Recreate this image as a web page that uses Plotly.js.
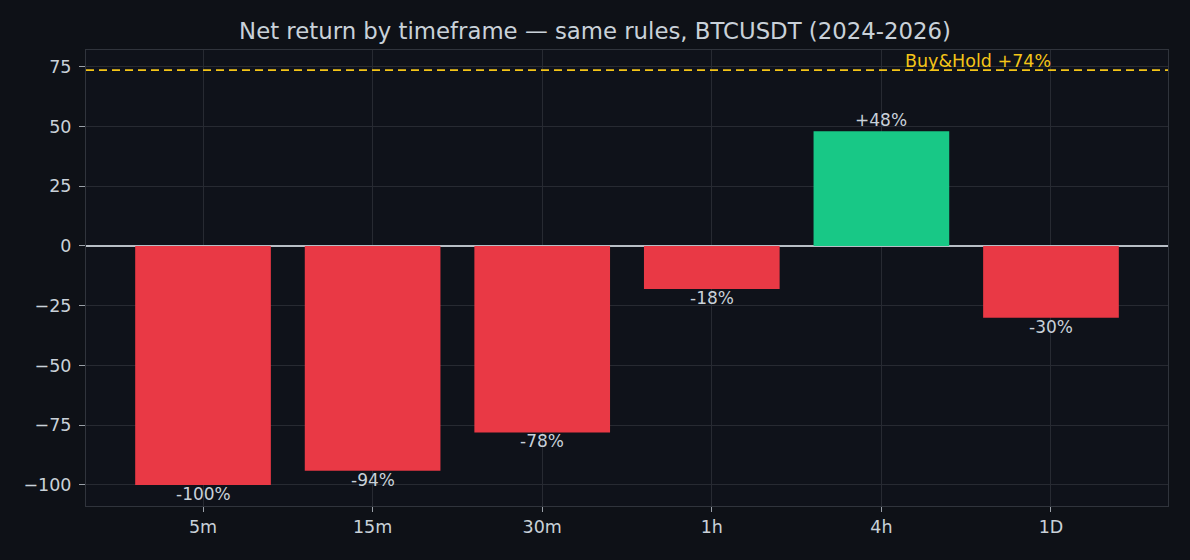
<!DOCTYPE html>
<html>
<head>
<meta charset="utf-8">
<script src="https://cdn.plot.ly/plotly-3.0.1.min.js"></script>
<style>
  html, body { margin: 0; padding: 0; background: #0e1117; }
  #myDiv { width: 1190px; height: 560px; }
</style>
</head>
<body>
<div id="myDiv"></div>
<script>
// timeframes and their net return (%)
var timeframes = ['5m', '15m', '30m', '1h', '4h', '1D'];
var netReturn = [-100, -94, -78, -18, 48, -30];
var buyHold = 73.6;   // shown as +74%
var yTicks = [-100, -75, -50, -25, 0, 25, 50, 75];

var barColors = netReturn.map(function (v) { return v >= 0 ? '#18c886' : '#e93945'; });
var barLabels = netReturn.map(function (v) { return (v > 0 ? '+' : '') + v + '%'; });

var trace1 = {
  x: timeframes,
  y: netReturn,
  type: 'bar',
  width: 0.8,
  marker: { color: barColors, line: { width: 0 } },
  hoverinfo: 'x+y'
};

// value labels just past the end of each bar
var labelNotes = timeframes.map(function (tf, i) {
  var neg = netReturn[i] < 0;
  return {
    x: tf,
    y: netReturn[i],
    xref: 'x',
    yref: 'y',
    text: barLabels[i],
    showarrow: false,
    yanchor: neg ? 'top' : 'bottom',
    yshift: neg ? 3 : -1,
    font: { family: 'DejaVu Sans', size: 17, color: '#c9d1d9' }
  };
});

var layout = {
  width: 1190,
  height: 560,
  margin: { l: 86, r: 22, t: 50, b: 54 },
  paper_bgcolor: '#0e1117',
  plot_bgcolor: '#0f121a',
  font: { family: 'DejaVu Sans', color: '#c9d1d9' },
  showlegend: false,
  title: {
    text: 'Net return by timeframe — same rules, BTCUSDT (2024-2026)',
    font: { family: 'DejaVu Sans', size: 22.8, color: '#c9d1d9' },
    x: 0.5,
    xanchor: 'center',
    y: 0.945,
    yanchor: 'middle'
  },
  xaxis: {
    type: 'category',
    range: [-0.69, 5.69],
    showgrid: true,
    gridcolor: '#272a32',
    gridwidth: 1,
    ticks: 'outside',
    ticklen: 5,
    tickcolor: '#9aa0a8',
    tickfont: { size: 17.5, color: '#c9d1d9' },
    showline: true,
    linecolor: '#30343c',
    mirror: true,
    zeroline: false,
    layer: 'above traces'
  },
  yaxis: {
    range: [-108.8, 82],
    tickvals: yTicks,
    showgrid: true,
    gridcolor: '#272a32',
    gridwidth: 1,
    ticks: 'outside',
    ticklen: 6,
    tickcolor: '#9aa0a8',
    ticklabelstandoff: 4,
    tickfont: { size: 17.5, color: '#c9d1d9' },
    showline: true,
    linecolor: '#30343c',
    mirror: true,
    zeroline: true,
    zerolinecolor: '#b8bec6',
    zerolinewidth: 1.5,
    layer: 'above traces'
  },
  shapes: [
    {
      type: 'line',
      xref: 'paper',
      yref: 'y',
      x0: 0, x1: 1,
      y0: buyHold, y1: buyHold,
      line: { color: '#f5c518', width: 1.8, dash: '8px,5px' }
    }
  ],
  annotations: labelNotes.concat([
    {
      x: 4.57,
      y: buyHold,
      xref: 'x',
      yref: 'y',
      text: 'Buy&Hold +' + Math.round(buyHold) + '%',
      showarrow: false,
      yanchor: 'bottom',
      yshift: -3,
      font: { family: 'DejaVu Sans', size: 17.5, color: '#f5c518' }
    }
  ])
};

Plotly.newPlot('myDiv', [trace1], layout, { displayModeBar: false });
</script>
</body>
</html>
